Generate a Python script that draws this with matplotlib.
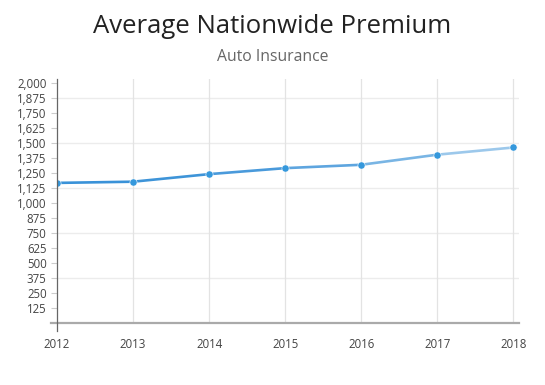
import matplotlib
matplotlib.use('Agg')
import matplotlib.pyplot as plt
import numpy as np

plt.rcParams['font.family'] = ['Open Sans', 'DejaVu Sans']

years = [2012, 2013, 2014, 2015, 2016, 2017, 2018]
premium = [1167, 1177, 1240, 1290, 1318, 1402, 1462]
ytick_vals = list(range(125, 2001, 125))
grid_vals = [375, 750, 1125, 1500, 1875]

fig = plt.figure(figsize=(5.45, 3.85), dpi=100)
ax = fig.add_axes([0.1046, 0.161, 0.847, 0.634])

# line fades from a deeper blue to a lighter one towards the right
n = len(years)
for i in range(n - 1):
    a = 1.0 - 0.5 * (i / (n - 2)) ** 2
    ax.plot(years[i:i + 2], premium[i:i + 2], color='#3a92d8', lw=1.9,
            alpha=a, solid_capstyle='butt', zorder=3)
ax.plot(years, premium, 'o', color='#3598dc', ms=5.2, mec='white',
        mew=0.4, zorder=4)

for g in grid_vals:
    ax.axhline(g, color='#ececec', lw=1.0, zorder=1)
for yr in years[1:]:
    ax.axvline(yr, color='#e3e3e3', lw=0.9, zorder=1)

ax.set_xlim(2012, 2018.07)
ax.set_ylim(0, 2033)

ax.set_yticks(ytick_vals)
ax.set_yticklabels(['{:,}'.format(v) for v in ytick_vals])
ax.set_xticks(years)
ax.set_xticklabels([str(y) for y in years])

ax.tick_params(axis='y', length=4.5, width=0.8, color='#cccccc', pad=3,
               labelsize=8.3, labelcolor='#444444')
ax.tick_params(axis='x', length=0, pad=11, labelsize=8.3,
               labelcolor='#444444')

for s in ['top', 'right']:
    ax.spines[s].set_visible(False)
ax.spines['left'].set_color('#666666')
ax.spines['left'].set_linewidth(0.9)
ax.spines['left'].set_bounds(-70, 2033)
ax.spines['left'].set_zorder(5)
ax.spines['bottom'].set_visible(False)
ax.axhline(0, xmin=-0.012, xmax=1.0, color='#aaaaaa', lw=1.6,
           clip_on=False, zorder=2)

fig.text(0.5, 0.915, 'Average Nationwide Premium', ha='center',
         va='baseline', fontsize=18.5, color='#222222')
fig.text(0.5, 0.842, 'Auto Insurance', ha='center', va='baseline',
         fontsize=11.3, color='#666666')

fig.savefig('out.png', dpi=100)
